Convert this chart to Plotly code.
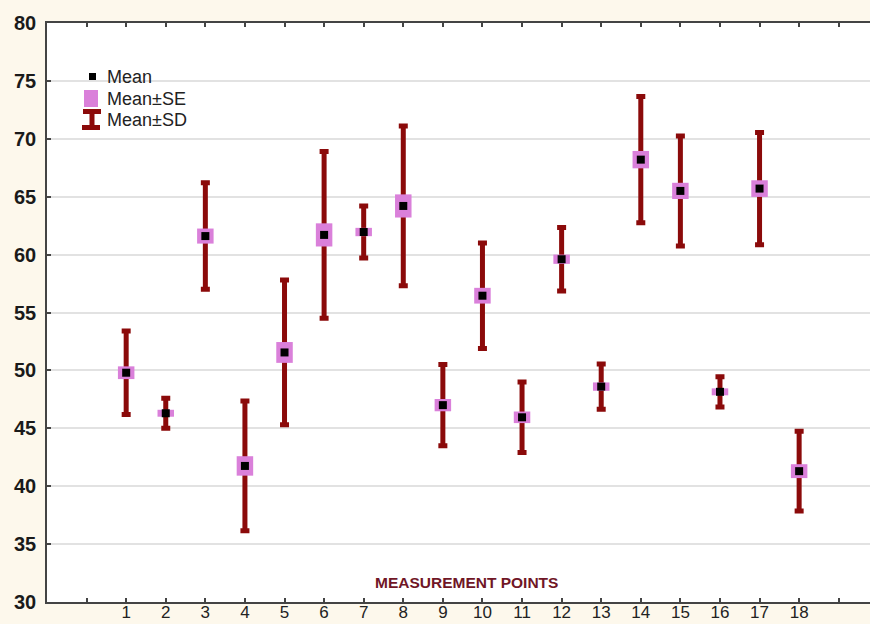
import plotly.graph_objects as go

# ---- data ----
points = list(range(1, 19))
means = [49.8, 46.3, 61.6, 41.75, 51.55, 61.7, 61.95, 64.2, 47.0, 56.45,
         45.95, 59.6, 48.6, 68.2, 65.5, 48.15, 65.7, 41.3]
sd = [3.6, 1.3, 4.6, 5.6, 6.25, 7.2, 2.25, 6.9, 3.5, 4.55,
      3.05, 2.75, 1.95, 5.45, 4.75, 1.3, 4.85, 3.45]
se = [0.55, 0.3, 0.65, 0.84, 0.9, 1.0, 0.36, 1.0, 0.53, 0.68,
      0.5, 0.4, 0.36, 0.75, 0.7, 0.3, 0.72, 0.6]
x_tick_vals = list(range(0, 20))
x_tick_text = [""] + [str(p) for p in points] + [""]
y_tick_vals = [30, 35, 40, 45, 50, 55, 60, 65, 70, 75, 80]

SD_COLOR = "#8B0A0A"
SE_COLOR = "#DA80DA"
W, H = 870, 624
L, T, B, R = 47, 23, 22, 0

fig = go.Figure()

# Mean ± SD
fig.add_trace(go.Scatter(
    x=points, y=means, mode="markers",
    marker=dict(size=1, color="rgba(0,0,0,0)"),
    error_y=dict(type="data", array=sd, visible=True,
                 color=SD_COLOR, thickness=5, width=4.5),
    showlegend=False, hoverinfo="skip"))

# Mean ± SE (drawn as thick bar)
fig.add_trace(go.Scatter(
    x=points, y=means, mode="markers",
    marker=dict(size=1, color="rgba(0,0,0,0)"),
    error_y=dict(type="data", array=se, visible=True,
                 color=SE_COLOR, thickness=16.5, width=0),
    showlegend=False, hoverinfo="skip"))

# Mean
fig.add_trace(go.Scatter(
    x=points, y=means, mode="markers",
    marker=dict(symbol="square", size=8, color="black"),
    showlegend=False))

# ---- custom legend (pixel positions converted to paper coords) ----
pw, ph = W - L - R, H - T - B
def px(xp):
    return (xp - L) / pw
def py(yp):
    return (H - B - yp) / ph

shapes = []
def rect(x0, y0, x1, y1, color):
    shapes.append(dict(type="rect", xref="paper", yref="paper",
                       x0=px(x0), x1=px(x1), y0=py(y1), y1=py(y0),
                       fillcolor=color, line=dict(width=0), layer="above"))

rect(89, 73, 96, 80, "black")
rect(84, 90, 98, 107, SE_COLOR)
rect(83, 109, 101, 114, SD_COLOR)
rect(89.5, 112, 94.5, 127, SD_COLOR)
rect(82, 125, 100, 130, SD_COLOR)

legend_labels = ["Mean", "Mean±SE", "Mean±SD"]
legend_y = [77, 99, 120]
annotations = []
for lab, yy in zip(legend_labels, legend_y):
    annotations.append(dict(text=lab, xref="paper", yref="paper",
                            x=px(105), y=py(yy), xanchor="left", yanchor="middle",
                            showarrow=False,
                            font=dict(family="Liberation Sans, Arial", size=18, color="#222222")))

annotations.append(dict(text="MEASUREMENT POINTS", xref="paper", yref="paper",
                        x=px(466), y=py(582), xanchor="center", yanchor="middle",
                        showarrow=False,
                        font=dict(family="Liberation Sans, Arial", size=15.5,
                                  color="#701626", weight="bold")))

fig.update_layout(
    width=W, height=H,
    margin=dict(l=L, r=R, t=T, b=B, pad=0),
    paper_bgcolor="#FDF8EC",
    plot_bgcolor="white",
    shapes=shapes,
    annotations=annotations,
    showlegend=False,
    xaxis=dict(range=[-1, 19.79], tickmode="array", tickvals=x_tick_vals,
               ticktext=x_tick_text, ticks="inside", ticklen=4, tickwidth=1.5,
               tickcolor="#444444", showline=True, linecolor="#444444", linewidth=1.5,
               mirror="allticks", showgrid=False, zeroline=False, automargin=False,
               ticklabelstandoff=-6,
               tickfont=dict(family="Liberation Sans, Arial", size=17, color="#222222")),
    yaxis=dict(range=[30, 80], tickmode="array", tickvals=y_tick_vals,
               ticks="inside", ticklen=4, tickwidth=1.5, tickcolor="#444444",
               showline=True, linecolor="#444444", linewidth=1.5,
               showgrid=True, gridcolor="#E2E2E2", gridwidth=2, zeroline=False,
               ticklabelstandoff=5, automargin=False,
               tickfont=dict(family="Liberation Sans, Arial", size=20, color="#1A1A1A",
                             weight="bold")),
)

fig.write_html("out.html",
               config={"displayModeBar": False},
               post_script="document.body.style.margin='0';document.body.style.padding='0';")
